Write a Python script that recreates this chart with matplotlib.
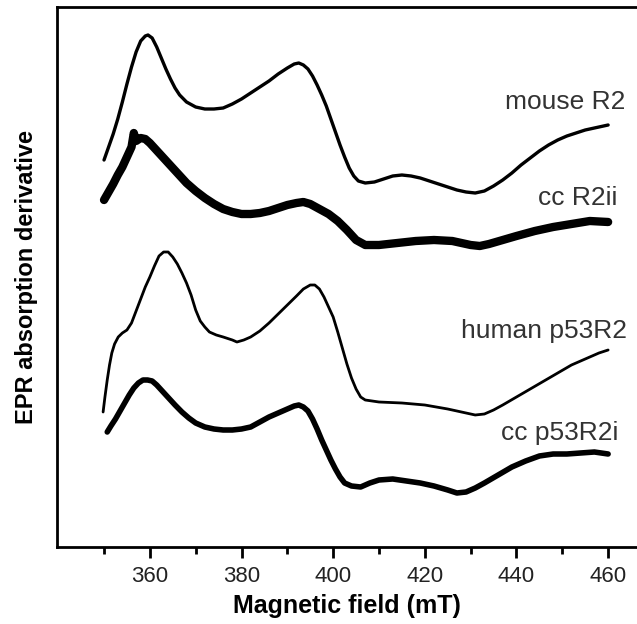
import matplotlib
matplotlib.use("Agg")
import matplotlib.pyplot as plt

plt.rcParams['font.family'] = ['Liberation Sans', 'DejaVu Sans']

# Magnetic field (mT) and EPR derivative signal (arbitrary units, traces offset vertically)
mouse_B = [350.0, 351, 352, 353, 354, 355, 356, 357, 358, 359, 359.6, 360.5, 361.5, 362.5,
           363.5, 364.5, 365.5, 366.5, 368, 370, 372, 374, 376, 378, 380, 382, 384, 386,
           388, 390, 391.5, 392.5, 393.5, 394.5, 395.5, 396.5, 397.5, 398.5, 399.5, 400.5,
           401.5, 402.5, 403.5, 404.5, 405.5, 407, 409, 411, 413, 415, 417, 419, 421, 423,
           425, 427, 429, 431, 433, 435, 437, 439, 441, 443, 445, 447, 449, 451, 453, 455,
           457, 460]
mouse_y = [387, 400, 413, 428, 445, 463, 480, 495, 506, 511, 512, 509, 500, 489,
           478, 468, 459, 452, 445, 440, 438, 438, 439, 443, 448, 454, 460, 466,
           473, 479, 483, 484, 482, 478, 471, 462, 452, 441, 428, 415,
           402, 390, 379, 371, 366, 364, 365, 368, 371, 372, 371, 369, 366, 363,
           360, 357, 355, 354, 356, 361, 367, 374, 382, 389, 396, 402, 407, 411, 414, 417,
           419, 422]

ccR2ii_B = [350, 351, 352, 353, 354, 355, 356, 356.5, 357, 358, 359, 360, 361, 362, 363,
            364, 365, 366, 367, 368, 369, 370, 372, 374, 376, 378, 380, 382, 384, 386,
            388, 390, 392, 393.5, 395, 397, 399, 401, 403, 405, 407, 410, 414, 418, 422,
            426, 430, 432, 434, 437, 440, 444, 448, 452, 456, 460]
ccR2ii_y = [347, 355, 363, 372, 380, 390, 400, 414, 406, 409, 408, 404, 399, 394, 389,
            384, 379, 374, 369, 364, 360, 356, 349, 343, 338, 335, 333, 333, 334, 336,
            339, 342, 344, 345, 343, 338, 333, 326, 317, 307, 302, 302, 304, 306, 307,
            306, 302, 301, 303, 307, 311, 316, 320, 323, 326, 325]

human_B = [349.8, 350.2, 350.7, 351.2, 351.7, 352.3, 353.1, 354, 355, 356, 357, 358, 359,
           360, 361, 362, 363, 364, 365, 366, 367, 368, 369, 370, 371, 372, 373, 374.5,
           376, 378, 379, 380.5, 382, 384, 386, 388, 390, 392, 393.5, 395, 396, 397, 398,
           399, 400, 401, 402, 403, 404, 405, 406, 407, 410, 415, 420, 425, 428, 431, 433,
           435, 437, 440, 443, 446, 449, 452, 455, 458, 460]
human_y = [135, 150, 167, 182, 194, 203, 210, 214, 217, 224, 236, 248, 260,
           270, 281, 291, 295, 295, 290, 283, 274, 264, 252, 237, 226, 220, 215, 212,
           210, 207, 205, 207, 210, 216, 224, 233, 242, 251, 258, 262, 262, 258, 250,
           240, 230, 215, 199, 183, 169, 158, 150, 147, 145, 144, 142, 138, 135, 132, 133,
           137, 142, 150, 158, 166, 174, 182, 188, 194, 197]

ccp53_B = [350.7, 351.5, 352.5, 353.5, 354.5, 355.5, 356.5, 357.5, 358.5, 359.5, 360.5,
           361.5, 362.5, 363.5, 364.5, 365.5, 367, 368.5, 370, 372, 374, 376, 378, 380,
           382, 384, 386, 388, 390, 391.5, 392.5, 393.5, 394.5, 395.5, 396.5, 397.5,
           398.5, 399.5, 400.5, 401.5, 402.5, 404, 406, 408, 410, 413, 416, 419, 422,
           425, 427, 429, 431, 433, 436, 439, 442, 445, 448, 451, 454, 457, 460]
ccp53_y = [115, 121, 128, 136, 144, 152, 159, 164, 167, 167, 166,
           162, 157, 152, 147, 142, 135, 129, 124, 120, 118, 117, 117, 118,
           120, 125, 130, 134, 138, 141, 142, 140, 136, 128, 118, 107,
           97, 87, 78, 70, 64, 61, 60, 64, 67, 68, 66, 64, 61,
           57, 54, 55, 59, 64, 72, 80, 86, 91, 93, 93, 94, 95, 93]

labels = ["mouse R2", "cc R2ii", "human p53R2", "cc p53R2i"]
label_pos = [(463.8, 445), (462.0, 349), (464.2, 216), (462.2, 114)]

xticks_major = [360, 380, 400, 420, 440, 460]
xticks_minor = [350, 370, 390, 410, 430, 450]

fig = plt.figure(figsize=(6.37, 6.24), dpi=100)
ax = fig.add_axes([57/637, 1 - 547/624, 1 - 57/637, 540/624])

ax.plot(mouse_B, mouse_y, color='black', lw=2.4, solid_joinstyle='round', solid_capstyle='round')
ax.plot(ccR2ii_B, ccR2ii_y, color='black', lw=6.0, solid_joinstyle='round', solid_capstyle='round')
ax.plot(human_B, human_y, color='black', lw=2.0, solid_joinstyle='round', solid_capstyle='round')
ax.plot(ccp53_B, ccp53_y, color='black', lw=4.0, solid_joinstyle='round', solid_capstyle='round')

for lab, (bx, by) in zip(labels, label_pos):
    ax.text(bx, by, lab, ha='right', va='center', fontsize=19, color='#333333')

ax.set_xlim(339.74, 466.3)
ax.set_ylim(0, 540)
ax.set_xticks(xticks_major)
ax.set_xticks(xticks_minor, minor=True)
ax.set_yticks([])
ax.tick_params(axis='x', which='major', direction='out', length=8, width=2,
               labelsize=16, pad=6, colors='black', labelcolor='#222222')
ax.tick_params(axis='x', which='minor', direction='out', length=5, width=2)
for s in ['left', 'bottom', 'top']:
    ax.spines[s].set_linewidth(2)
ax.spines['right'].set_visible(False)

ax.set_xlabel("Magnetic field (mT)", fontsize=18, fontweight='bold', labelpad=5)
ax.set_ylabel("EPR absorption derivative", fontsize=17, fontweight='bold', labelpad=14)

fig.savefig("out.png", dpi=100)
